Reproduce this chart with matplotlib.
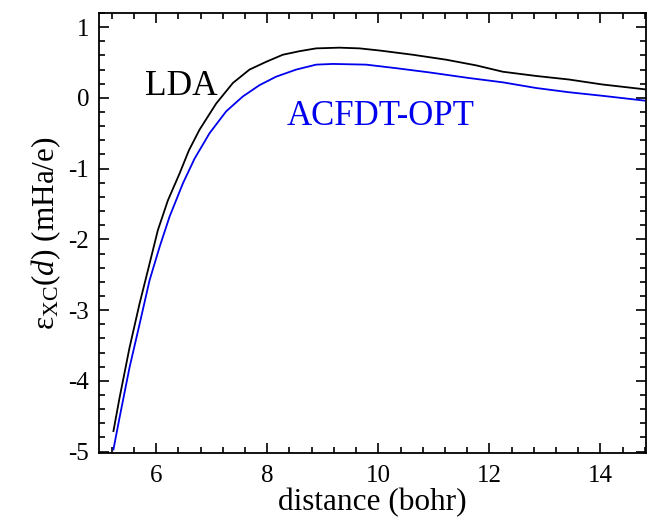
import matplotlib
matplotlib.use("Agg")
import matplotlib.pyplot as plt
from matplotlib.ticker import MultipleLocator

plt.rcParams['font.family'] = ['Liberation Serif', 'DejaVu Serif']
plt.rcParams['mathtext.fontset'] = 'custom'
plt.rcParams['mathtext.rm'] = 'Liberation Serif'
plt.rcParams['mathtext.it'] = 'Liberation Serif:italic'
plt.rcParams['axes.unicode_minus'] = False

lda_x = [5.23, 5.34, 5.52, 5.70, 5.85, 6.03, 6.21, 6.42, 6.59, 6.78, 7.08, 7.38,
         7.68, 7.98, 8.28, 8.58, 8.88, 9.30, 9.66, 10.02, 10.62, 11.22, 11.76,
         12.24, 12.84, 13.43, 14.03, 14.81]
lda_y = [-4.71, -4.24, -3.53, -2.91, -2.44, -1.87, -1.45, -1.07, -0.74, -0.45,
         -0.08, 0.21, 0.40, 0.51, 0.61, 0.66, 0.70, 0.71, 0.70, 0.67, 0.61, 0.54,
         0.46, 0.37, 0.31, 0.26, 0.19, 0.12]

acf_x = [5.23, 5.34, 5.52, 5.70, 5.88, 6.06, 6.24, 6.48, 6.69, 6.96, 7.26, 7.56,
         7.86, 8.16, 8.52, 8.88, 9.18, 9.78, 10.32, 10.92, 11.64, 12.24, 12.84,
         13.43, 14.03, 14.81]
acf_y = [-4.97, -4.52, -3.81, -3.20, -2.58, -2.11, -1.68, -1.21, -0.86, -0.50,
         -0.19, 0.02, 0.18, 0.30, 0.40, 0.47, 0.48, 0.47, 0.42, 0.36, 0.28, 0.22,
         0.14, 0.08, 0.03, -0.04]

x_ticks = [6, 8, 10, 12, 14]
y_ticks = [-5, -4, -3, -2, -1, 0, 1]

fig = plt.figure(figsize=(6.47, 5.21), dpi=100)
ax = fig.add_axes([99/647, 1-453/521, 547/647, 440/521])

ax.plot(lda_x, lda_y, color='black', lw=1.3)
ax.plot(acf_x, acf_y, color='#0000ee', lw=1.3)

ax.set_xlim(4.97, 14.82)
ax.set_ylim(-5.02, 1.2)
ax.set_xticks(x_ticks)
ax.set_yticks(y_ticks)
ax.xaxis.set_minor_locator(MultipleLocator(0.4))
ax.yaxis.set_minor_locator(MultipleLocator(0.2))
ax.tick_params(which='both', direction='in', top=True, right=True, width=1.2,
               labelsize=18)
ax.tick_params(which='major', length=7)
ax.tick_params(which='minor', length=4)
ax.tick_params(axis='y', pad=7)
ax.tick_params(axis='x', pad=9)
for s in ax.spines.values():
    s.set_linewidth(1.3)

ax.text(5.79, 0.04, 'LDA', fontsize=25.5, color='black', ha='left', va='baseline')
ax.text(8.35, -0.38, 'ACFDT-OPT', fontsize=25, color='#0000ee', ha='left', va='baseline')

ax.set_xlabel('distance (bohr)', fontsize=22.5, labelpad=0)
ax.set_ylabel(r'$\mathrm{\varepsilon}_{\mathrm{XC}}(\mathit{d})$ (mHa/e)', fontsize=22.5, labelpad=4)

fig.savefig('out.png', dpi=100)
